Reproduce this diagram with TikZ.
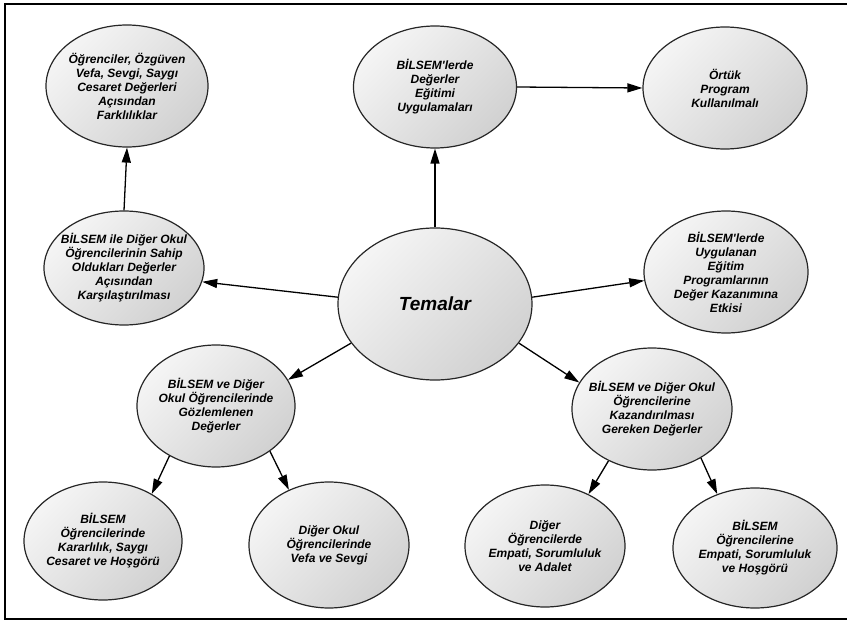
\documentclass[tikz,border=0pt]{standalone}
\usepackage{fontspec}
\setmainfont{Liberation Sans}
\usetikzlibrary{shapes.geometric,arrows.meta}
\begin{document}
\begin{tikzpicture}[x=1pt,y=-1pt,
 ell/.style={ellipse, draw=black!85, line width=1.2pt, inner sep=0pt, top color=black!4, bottom color=black!18, shading angle=45},
 txt/.style={align=center, font=\fontsize{12}{14}\selectfont\bfseries\itshape, inner sep=0pt},
 conn/.style={line width=1.3pt, -{Triangle[length=15pt,width=9pt]}}]
\useasboundingbox (0,0) rectangle (847,623);
\draw[line width=2.5pt] (860,4) -- (5,4) -- (5,619) -- (860,619);

\node[ell, minimum width=162pt, minimum height=122pt] (n1) at (127,86) {};
\node[txt] (t1) at (n1) {Öğrenciler, Özgüven\\Vefa, Sevgi, Saygı\\Cesaret Değerleri\\Açısından\\Farklılıklar};

\node[ell, minimum width=160pt, minimum height=114pt] (n2) at (124,268) {};
\node[txt] (t2) at (n2) {BİLSEM ile Diğer Okul\\Öğrencilerinin Sahip\\Oldukları Değerler\\Açısından\\Karşılaştırılması};

\node[ell, minimum width=163pt, minimum height=122pt] (n3) at (435,87) {};
\node[txt] (t3) at (n3) {BİLSEM\textquotesingle lerde\\Değerler\\Eğitimi\\Uygulamaları};

\node[ell, minimum width=164pt, minimum height=122pt] (n4) at (725,88) {};
\node[txt] (t4) at (n4) {Örtük\\Program\\Kullanılmalı};

\node[ell, minimum width=164pt, minimum height=122pt] (n5) at (726,272) {};
\node[txt] (t5) at (n5) {BİLSEM\textquotesingle lerde\\Uygulanan\\Eğitim\\Programlarının\\Değer Kazanımına\\Etkisi};

\node[ell, minimum width=194pt, minimum height=152pt] (T) at (435,304) {};
\node[txt, font=\fontsize{19}{22}\selectfont\bfseries\itshape] (tT) at (T) {Temalar};

\node[ell, minimum width=158pt, minimum height=122pt] (n7) at (216,406) {};
\node[txt] (t7) at (n7) {BİLSEM ve Diğer\\Okul Öğrencilerinde\\Gözlemlenen\\Değerler};

\node[ell, minimum width=158pt, minimum height=118pt] (n8) at (103,541) {};
\node[txt] (t8) at (n8) {BİLSEM\\Öğrencilerinde\\Kararlılık, Saygı\\Cesaret ve Hoşgörü};

\node[ell, minimum width=160pt, minimum height=126pt] (n9) at (329,545) {};
\node[txt] (t9) at (n9) {Diğer Okul\\Öğrencilerinde\\Vefa ve Sevgi};

\node[ell, minimum width=160pt, minimum height=122pt] (n10) at (652,409) {};
\node[txt] (t10) at (n10) {BİLSEM ve Diğer Okul\\Öğrencilerine\\Kazandırılması\\Gereken Değerler};

\node[ell, minimum width=160pt, minimum height=122pt] (n11) at (545,546) {};
\node[txt] (t11) at (n11) {Diğer\\Öğrencilerde\\Empati, Sorumluluk\\ve Adalet};

\node[ell, minimum width=164pt, minimum height=120pt] (n12) at (755,548) {};
\node[txt] (t12) at (n12) {BİLSEM\\Öğrencilerine\\Empati, Sorumluluk\\ve Hoşgörü};

\draw[conn] (T.north) -- (n3.south);
\draw[conn] (n3.east) -- (n4.west);
\draw[conn] (n2.north) -- (n1.south);
\draw[conn] (T.176) -- (n2.350);
\draw[conn] (T.4) -- (n5.186);
\draw[conn] (T.205) -- (n7.20);
\draw[conn] (T.335) -- (n10.160);
\draw[conn] (n7.227) -- (n8.44);
\draw[conn] (n7.320) -- (n9.126);
\draw[conn] (n10.230) -- (n11.50);
\draw[conn] (n10.315) -- (n12.125);
\end{tikzpicture}
\end{document}
